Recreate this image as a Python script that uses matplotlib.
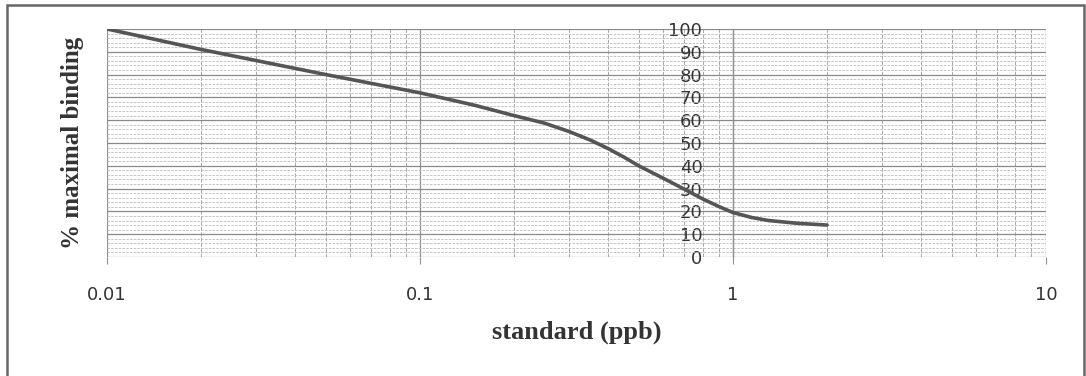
import numpy as np
import matplotlib.pyplot as plt
from matplotlib.patches import Rectangle
from matplotlib.ticker import FixedLocator, NullFormatter, MultipleLocator

# values
conc = [0.01, 0.02, 0.05, 0.1, 0.15, 0.2, 0.25, 0.3, 0.35, 0.4, 0.45, 0.5,
        0.63, 0.7, 0.8, 0.9, 1.0, 1.15, 1.3, 1.6, 2.0]
binding = [100, 91, 80, 72, 66.5, 62, 58.7, 55, 51.3, 47.5, 43.7, 40,
           33, 29.7, 25.5, 22.2, 19.5, 17.3, 16, 14.8, 14]

x_ticks = [0.01, 0.1, 1, 10]
x_labels = ["0.01", "0.1", "1", "10"]
y_ticks = list(range(0, 101, 10))

fig = plt.figure(figsize=(10.86, 3.76), dpi=100)
ax = fig.add_axes([0.0985, 0.3165, 0.8645, 0.6065])

# outer frame of the scanned figure
fig.patches.append(Rectangle((0.0065, -0.02), 0.9915, 1.007, transform=fig.transFigure,
                             fill=False, edgecolor="#666666", linewidth=1.8))

ax.plot(conc, binding, color="#555555", linewidth=2.6, solid_capstyle="round",
        solid_joinstyle="round", zorder=5)

ax.set_xscale("log")
ax.set_xlim(0.01, 10)
ax.set_ylim(0, 100)

ax.xaxis.set_major_locator(FixedLocator(x_ticks))
ax.set_xticklabels(x_labels)
minors = [m * d for d in [0.01, 0.1, 1] for m in range(2, 10)]
ax.xaxis.set_minor_locator(FixedLocator(minors))
ax.xaxis.set_minor_formatter(NullFormatter())
ax.yaxis.set_major_locator(FixedLocator(y_ticks))
ax.yaxis.set_minor_locator(MultipleLocator(2))

ax.grid(which="major", axis="y", color="#8a8a8a", linewidth=0.9)
ax.grid(which="minor", axis="y", color="#bbbbbb", linewidth=0.6, linestyle=(0, (3, 1.5)))
ax.grid(which="major", axis="x", color="#909090", linewidth=0.9)
ax.grid(which="minor", axis="x", color="#a8a8a8", linewidth=0.7, linestyle=(0, (4, 1.5)))

for s in ["top", "right", "bottom"]:
    ax.spines[s].set_visible(False)
# y axis crosses at x = 1, as in the original spreadsheet chart
ax.spines["left"].set_position(("data", 1))
ax.spines["left"].set_color("#909090")
ax.spines["left"].set_linewidth(0.9)

ax.tick_params(axis="x", which="major", length=5, color="#909090", pad=16,
               labelsize=13, labelcolor="#333333")
ax.tick_params(axis="x", which="minor", length=0)
ax.tick_params(axis="y", which="both", length=0, pad=22, labelsize=13,
               labelcolor="#333333")

ax.set_xlabel("standard (ppb)", family="Liberation Serif", fontweight="bold",
              fontsize=19, color="#333333", labelpad=12)
ax.text(-0.037, 0.5, "% maximal binding", transform=ax.transAxes, rotation=90,
        ha="center", va="center", family="Liberation Serif", fontweight="bold",
        fontsize=18, color="#333333")

fig.savefig("out.png", dpi=100)
